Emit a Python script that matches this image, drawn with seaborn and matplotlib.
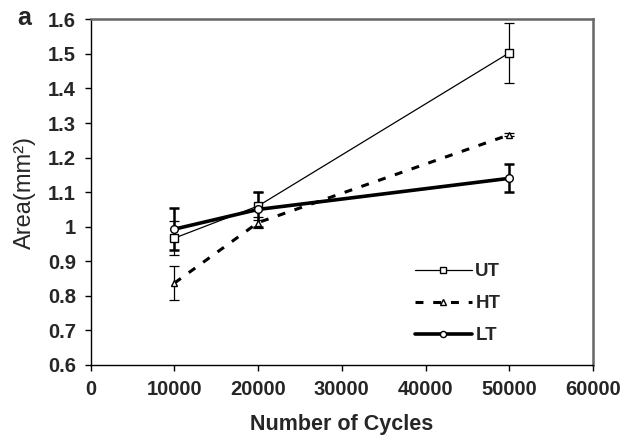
import matplotlib
matplotlib.use("Agg")
import matplotlib.pyplot as plt
import seaborn as sns
import pandas as pd

cycles = [10000, 20000, 50000]
ut_vals = [0.967, 1.06, 1.503]
ht_vals = [0.837, 1.012, 1.266]
lt_vals = [0.993, 1.05, 1.14]
ut_err = [0.05, 0.04, 0.087]
ht_err = [0.05, 0.015, 0.005]
lt_err = [0.06, 0.05, 0.04]
series_names = ["UT", "HT", "LT"]
x_ticks = [0, 10000, 20000, 30000, 40000, 50000, 60000]
y_ticks = [0.6, 0.7, 0.8, 0.9, 1.0, 1.1, 1.2, 1.3, 1.4, 1.5, 1.6]

sns.set_style("white")
plt.rcParams['font.family'] = ['Liberation Sans', 'DejaVu Sans']

fig = plt.figure(figsize=(6.25, 4.37), dpi=100)
ax = fig.add_axes([0.1451, 0.1648, 0.9488 - 0.1451, 0.9558 - 0.1648])

vals = [ut_vals, ht_vals, lt_vals]
errs = [ut_err, ht_err, lt_err]
styles = [
    dict(lw=0.9, marker='s', ms=5.5, dashes=None, elw=0.9),
    dict(lw=2.2, marker='^', ms=5.0, dashes=(2.6, 3.2), elw=0.9),
    dict(lw=2.6, marker='o', ms=5.5, dashes=None, elw=1.8),
]

for name, v, e, st in zip(series_names, vals, errs, styles):
    df = pd.DataFrame({"x": cycles, "y": v})
    ax.errorbar(cycles, v, yerr=e, fmt='none', ecolor='black',
                elinewidth=st['elw'], capsize=3.4, capthick=st['elw'], zorder=2)
    sns.lineplot(data=df, x="x", y="y", ax=ax, color='black', lw=st['lw'],
                 marker=st['marker'], markersize=st['ms'], markerfacecolor='white',
                 markeredgecolor='black', markeredgewidth=1.0, label=name, zorder=3)
    l = ax.get_lines()[-1]
    if st['dashes'] is not None:
        l.set_dashes(st['dashes'])

ax.set_xlim(0, 60000)
ax.set_ylim(0.6, 1.6)
ax.set_xticks(x_ticks)
ax.set_xticklabels([str(t) for t in x_ticks], fontsize=14.5, fontweight='bold')
ax.set_yticks(y_ticks)
ax.set_yticklabels(["%g" % t for t in y_ticks], fontsize=14.5, fontweight='bold')
ax.tick_params(axis='both', direction='out', length=4.5, width=1, color='black',
               bottom=True, left=True, pad=6)
ax.set_xlabel("Number of Cycles", fontsize=15.5, fontweight='bold')
ax.set_ylabel("Area(mm²)", fontsize=17)
ax.xaxis.set_label_coords(0.5, -0.142)
ax.yaxis.set_label_coords(-0.109, 0.5)

for s in ['left', 'bottom']:
    ax.spines[s].set_color('black')
    ax.spines[s].set_linewidth(1.0)
for s in ['top', 'right']:
    ax.spines[s].set_color('#666666')
    ax.spines[s].set_linewidth(1.8)

leg = ax.legend(loc='center left', bbox_to_anchor=(0.6376, 0.305),
                bbox_transform=fig.transFigure, frameon=False,
                prop={'size': 13.5, 'weight': 'bold'}, handlelength=3.0,
                handletextpad=0.2, labelspacing=0.8, markerscale=0.8)

fig.text(0.028, 0.958, "a", fontsize=18, fontweight='bold', va='center')

fig.savefig("out.png", dpi=100, facecolor='white')
